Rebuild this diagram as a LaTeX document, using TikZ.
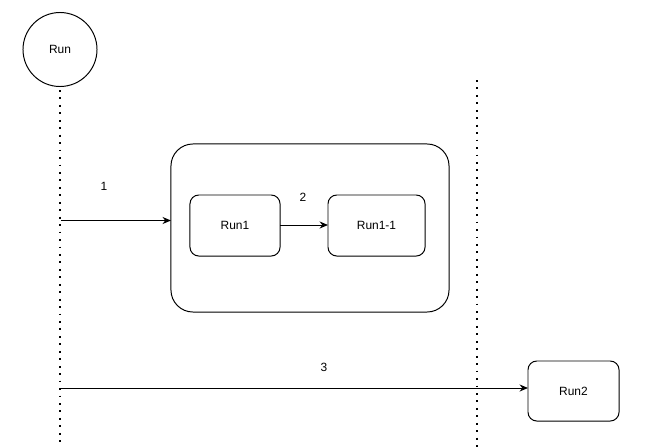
\documentclass[tikz,border=0pt]{standalone}
\usepackage{fontspec}
\setmainfont{Liberation Sans}
\usepackage{tikz}
\usetikzlibrary{positioning,arrows.meta,calc}

\begin{document}
\begin{tikzpicture}[
  x=0.025cm, y=-0.025cm,
  font=\fontsize{8.5}{10}\selectfont,
  >={Stealth[length=6pt,width=5pt]},
  line width=0.7pt,
  box/.style={draw, rounded corners=0.22cm, outer sep=0pt, align=center, inner sep=2pt},
  frame/.style={draw, rounded corners=0.55cm, outer sep=0pt},
  actor/.style={draw, circle, minimum size=1.85cm, outer sep=0pt},
  life/.style={line width=1.3pt, dash pattern=on 1.3pt off 4pt},
  lbl/.style={inner sep=0pt}
]
\useasboundingbox (0,0) rectangle (650,447);
% caller
\node[actor] (run) at (60,49.5) {Run};
\coordinate (runstart) at (60,90);
\coordinate (runend) at (60,447);
\draw[life] (runstart) -- (runend);
% second lifeline
\coordinate (bartop) at (477,80);
\coordinate (barend) at (477,447);
\draw[life] (bartop) -- (barend);
% group with inner calls
\node[frame, minimum width=6.95cm, minimum height=4.2cm] (grp) at (310,228) {};
\node[box, minimum width=2.25cm, minimum height=1.525cm] (run1) at (235,225.5) {Run1};
\node[box, minimum width=2.425cm, minimum height=1.525cm] (run11) at (376.5,225.5) {Run1-1};
% outside target
\node[box, minimum width=2.275cm, minimum height=1.5cm] (run2) at (573.5,391) {Run2};
% arrows
\coordinate (p1) at (61,220.5);
\coordinate (p3) at (61,388);
\draw[->] (p1) -- (p1 -| grp.west);
\draw[->] (run1.east |- 0,225) -- (run11.west |- 0,225);
\draw[->] (p3) -- (p3 -| run2.west);
% labels
\node[lbl] (n1) at (104,186) {1};
\node[lbl] (n2) at (303,197.5) {2};
\node[lbl] (n3) at (324,367.5) {3};
\end{tikzpicture}
\end{document}
